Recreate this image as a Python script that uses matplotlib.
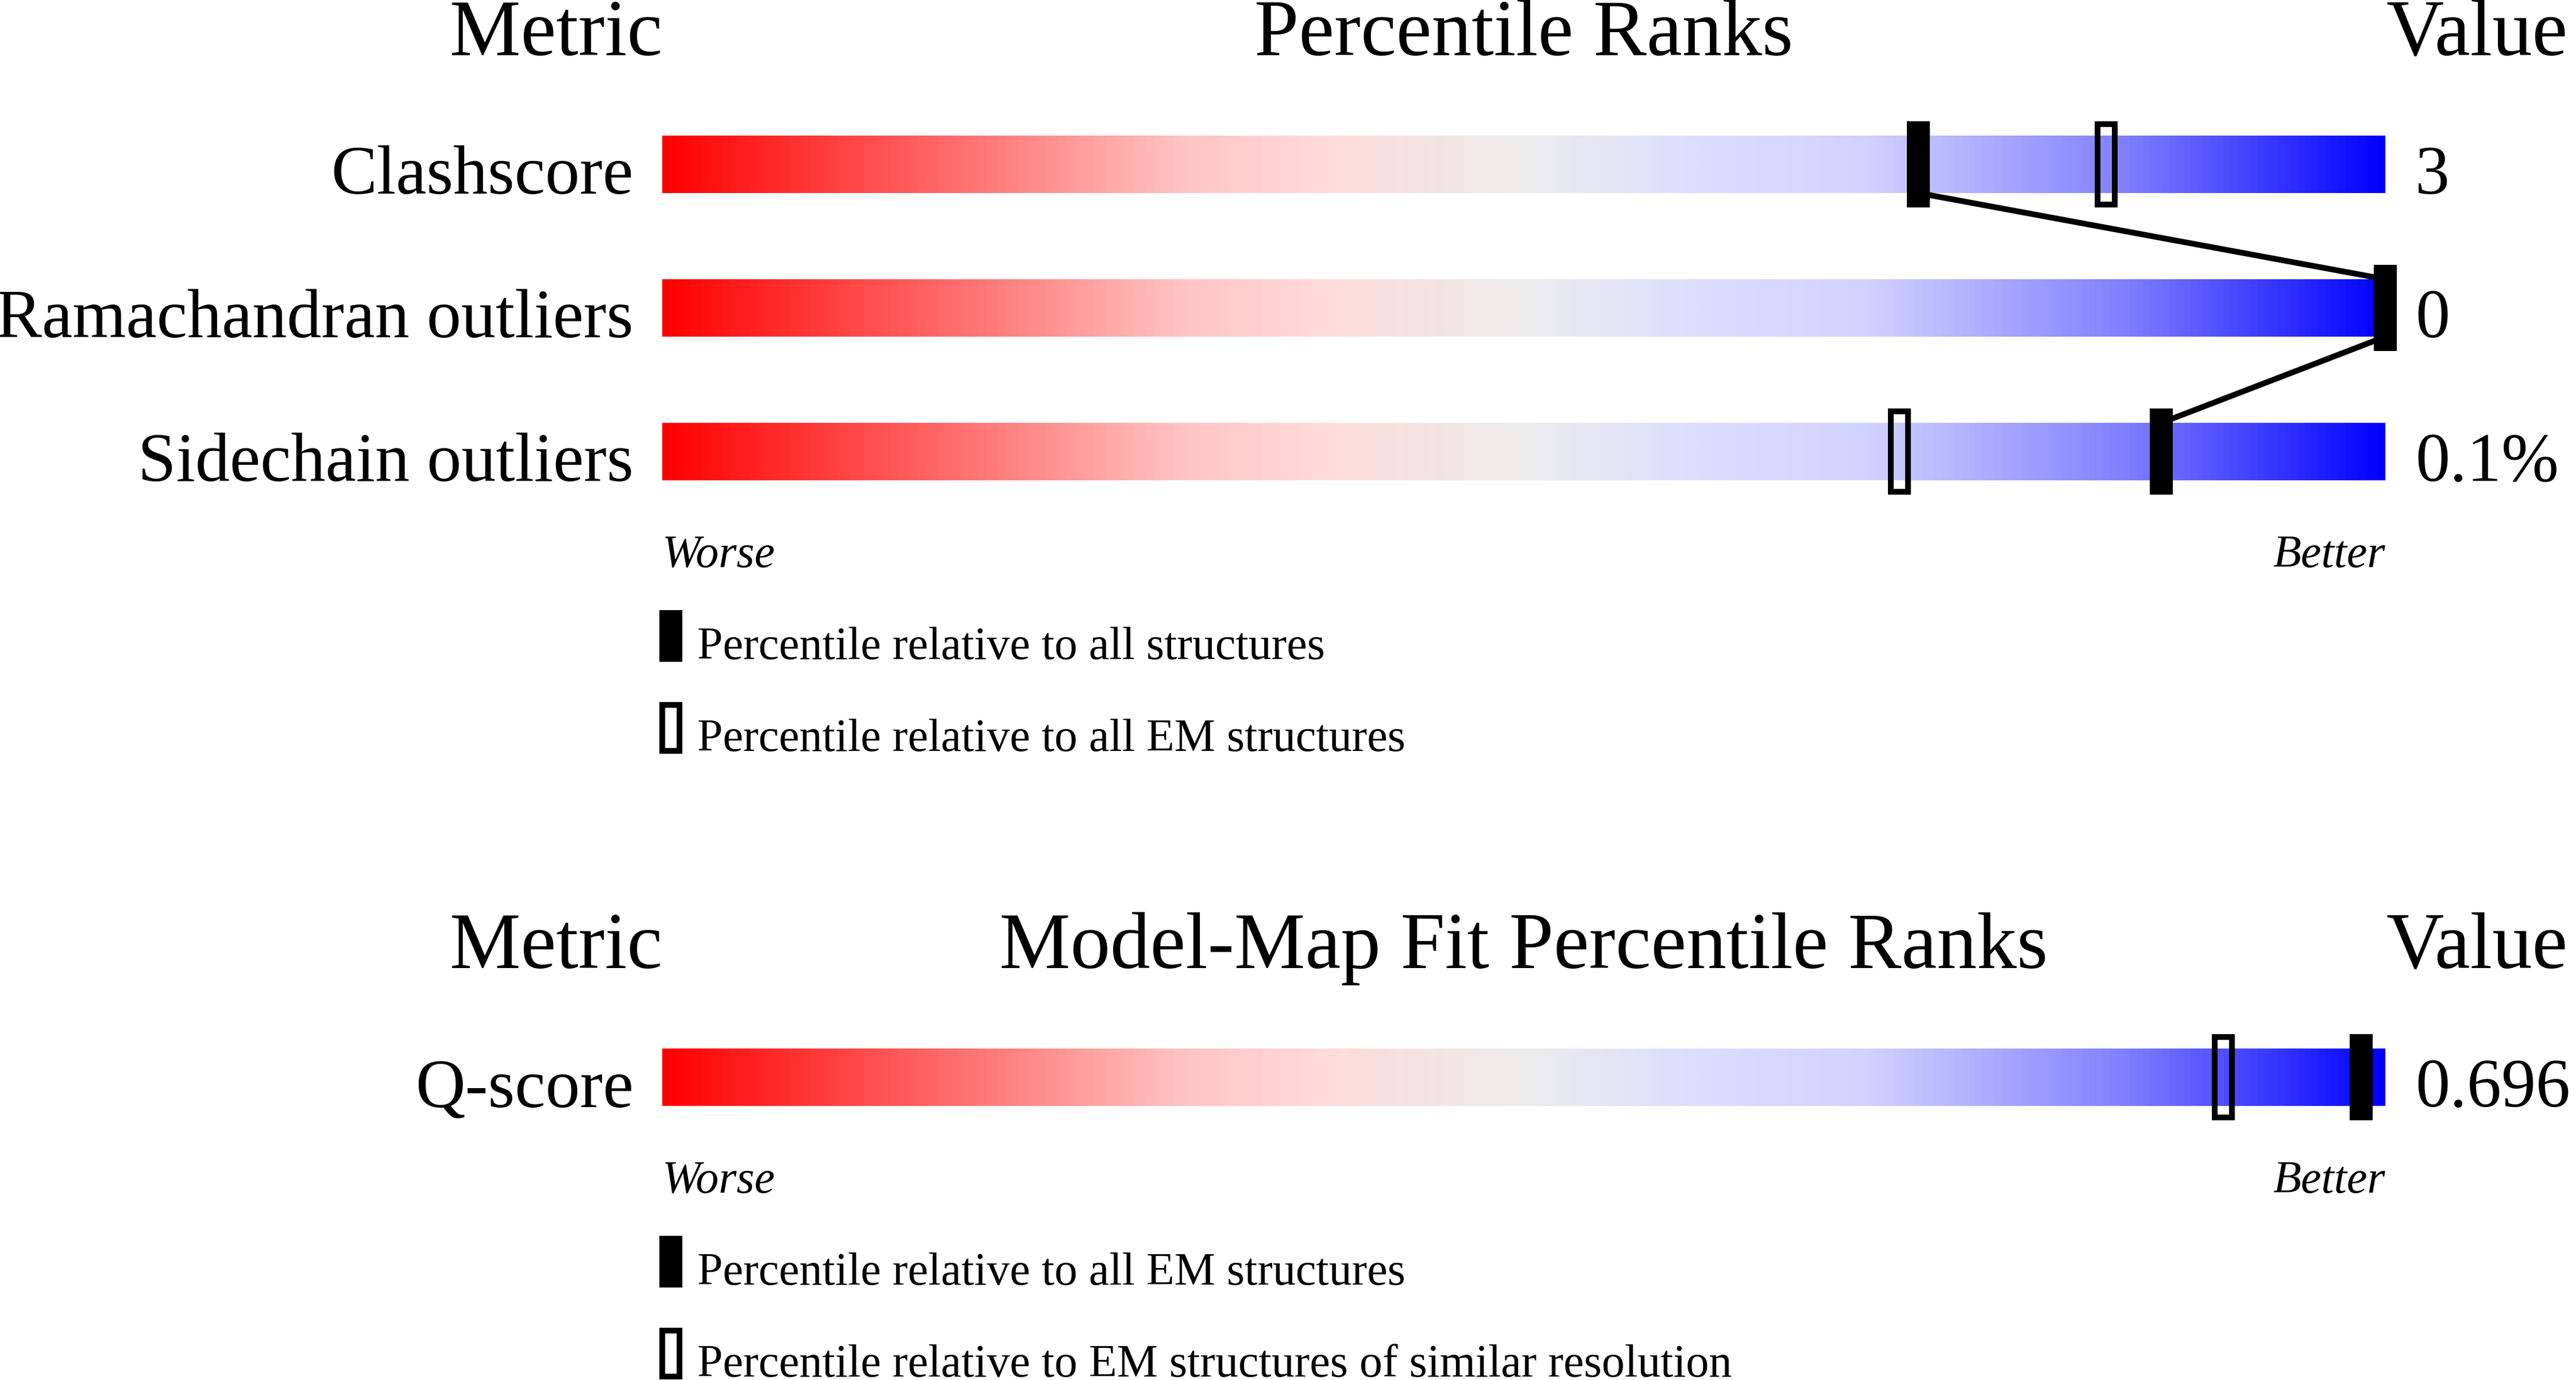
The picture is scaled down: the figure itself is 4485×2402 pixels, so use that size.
"""
Validation percentile sliders (wwPDB style).
"""

import numpy as np

import matplotlib
matplotlib.use("Agg")
import matplotlib.pyplot as plt
from matplotlib.colors import LinearSegmentedColormap
from matplotlib.patches import Rectangle


# data
geom_metrics = ["Clashscore", "Ramachandran outliers", "Sidechain outliers"]
geom_values = ["3", "0", "0.1%"]
geom_pct_all = [72.9, 100.0, 87.0]        # filled marker
geom_pct_em = [83.8, 100.0, 71.8]         # open marker
geom_legend = ["Percentile relative to all structures",
               "Percentile relative to all EM structures"]

fit_metrics = ["Q-score"]
fit_values = ["0.696"]
fit_pct_em = [98.6]                       # filled marker
fit_pct_similar = [90.6]                  # open marker
fit_legend = ["Percentile relative to all EM structures",
              "Percentile relative to EM structures of similar resolution"]

# slider colour stops (position, rgb)
slider_stops = [
    (0.00, (255, 0, 0)),
    (0.30, (255, 195, 195)),
    (0.38, (255, 218, 218)),
    (0.50, (236, 236, 236)),
    (0.60, (221, 221, 255)),
    (0.70, (210, 210, 255)),
    (0.85, (128, 128, 255)),
    (1.00, (0, 0, 255)),
]

W, H = 4485, 2402
PT = 72.0 / 100          # pixel -> point at dpi 100
FONT = "Liberation Serif"

BAR_X0 = 1153
BAR_W = 3000
BAR_X1 = BAR_X0 + BAR_W
BAR_H = 100
ROW_STEP = 250
MARK_W, MARK_H = 40, 150
EDGE = 10

cmap = LinearSegmentedColormap.from_list(
    "slider", [(p, tuple(c / 255 for c in rgb)) for p, rgb in slider_stops])
grad = np.linspace(0, 1, 1024).reshape(1, -1)


def pct_to_x(p):
    return BAR_X0 + p / 100.0 * BAR_W


def marker(ax, xc, yc, h, filled, zorder=5):
    if filled:
        r = Rectangle((xc - MARK_W / 2, yc - h / 2), MARK_W, h,
                      facecolor="black", edgecolor="none", zorder=zorder)
    else:
        r = Rectangle((xc - MARK_W / 2 + EDGE / 2, yc - h / 2 + EDGE / 2),
                      MARK_W - EDGE, h - EDGE, facecolor="none",
                      edgecolor="black", linewidth=EDGE * PT, zorder=zorder)
    ax.add_patch(r)


def draw_panel(ax, y0, title, metrics, values, pct_filled, pct_open,
               legend, join=False):
    # y0 is the baseline of the header line
    ax.text(BAR_X0, y0, "Metric", ha="right", va="baseline",
            fontsize=139 * PT, family=FONT)
    ax.text(BAR_X0 + BAR_W / 2, y0, title, ha="center", va="baseline",
            fontsize=139 * PT, family=FONT)
    ax.text(BAR_X1 + 2, y0, "Value", ha="left", va="baseline",
            fontsize=139 * PT, family=FONT)

    pts = []
    for i, name in enumerate(metrics):
        top = y0 + 140 + i * ROW_STEP
        bottom = top + BAR_H
        ax.imshow(grad, cmap=cmap, aspect="auto", interpolation="bilinear",
                  extent=(BAR_X0, BAR_X1, bottom, top), zorder=1)
        ax.text(BAR_X0 - 50, bottom + 1, name, ha="right", va="baseline",
                fontsize=120 * PT, family=FONT)
        ax.text(BAR_X1 + 52, bottom + 1, values[i], ha="left",
                va="baseline", fontsize=120 * PT, family=FONT)
        yc = top + BAR_H / 2
        marker(ax, pct_to_x(pct_open[i]), yc, MARK_H, filled=False)
        marker(ax, pct_to_x(pct_filled[i]), yc, MARK_H, filled=True)
        pts.append((pct_to_x(pct_filled[i]), top, bottom))

    if join and len(pts) > 1:
        xs, ys = [], []
        for (x, t, b) in pts:
            xs += [x, x]
            ys += [t, b]
        ax.plot(xs[1:-1], ys[1:-1], color="black", linewidth=10 * PT,
                solid_joinstyle="miter", zorder=3)

    last_bottom = y0 + 140 + (len(metrics) - 1) * ROW_STEP + BAR_H
    yw = last_bottom + 151
    ax.text(BAR_X0, yw, "Worse", ha="left", va="baseline", style="italic",
            fontsize=80 * PT, family=FONT)
    ax.text(BAR_X1, yw, "Better", ha="right", va="baseline", style="italic",
            fontsize=80 * PT, family=FONT)

    for k, label in enumerate(legend):
        mtop = yw + 75 + k * 160
        marker(ax, BAR_X0 + 15, mtop + 45, 90, filled=(k == 0))
        ax.text(BAR_X0 + 61, mtop + 85, label, ha="left", va="baseline",
                fontsize=80 * PT, family=FONT)


fig = plt.figure(figsize=(W / 100, H / 100), dpi=100)
ax = fig.add_axes([0, 0, 1, 1])

draw_panel(ax, 96, "Percentile Ranks", geom_metrics, geom_values,
           geom_pct_all, geom_pct_em, geom_legend, join=True)
draw_panel(ax, 1685, "Model-Map Fit Percentile Ranks", fit_metrics,
           fit_values, fit_pct_em, fit_pct_similar, fit_legend)

ax.set_xlim(0, W)
ax.set_ylim(H, 0)
ax.axis("off")

fig.savefig("out.png", dpi=100, facecolor="white")
